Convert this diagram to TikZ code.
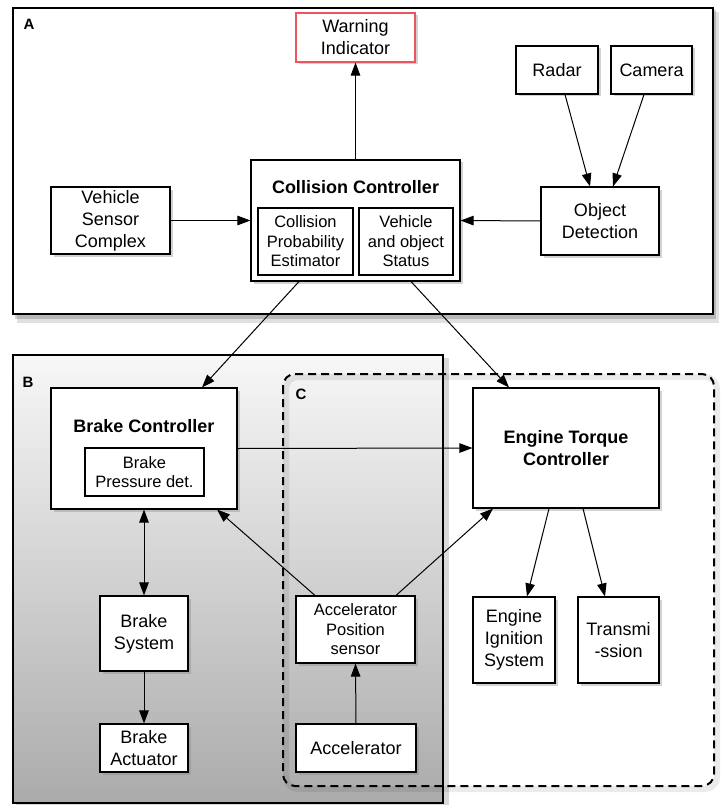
\documentclass[tikz,border=0pt]{standalone}
\usepackage{fontspec}
\setmainfont{Liberation Sans}
\usetikzlibrary{arrows.meta,shadows}
\definecolor{warnred}{RGB}{235,85,95}
\tikzset{
  blk/.style={draw=black, line width=1.1pt, fill=white, inner sep=0pt, align=center,
    font=\fontsize{18}{22}\selectfont,
    drop shadow={shadow xshift=2.5pt, shadow yshift=-2.5pt, opacity=0.35}},
  inner/.style={draw=black, line width=1.1pt, fill=white, inner sep=0pt, align=center,
    font=\fontsize{16.5}{19.5}\selectfont},
  title/.style={font=\bfseries\fontsize{18}{22}\selectfont, align=center, inner sep=0pt},
  lbl/.style={font=\bfseries\fontsize{15}{18}\selectfont, inner sep=0pt},
  conn/.style={line width=1pt, -{Triangle[length=13pt,width=9.5pt]}},
  conn2/.style={line width=1pt, {Triangle[length=13pt,width=9.5pt]}-{Triangle[length=13pt,width=9.5pt]}},
}
\begin{document}
\begin{tikzpicture}[x=1pt,y=-1pt]
\useasboundingbox (0,0) rectangle (721,805);
% group A
\fill[black, opacity=0.12] (17,12) rectangle (719,323);
\fill[black, opacity=0.18] (15,10) rectangle (716,319);
\draw[line width=2.6pt, fill=white] (13,8) rectangle (713,314);
\node[lbl] (labA) at (29,24) {A};
% group B
\fill[black, opacity=0.15] (16,358) rectangle (449,805);
\shade[top color=black!3, bottom color=black!33] (13,355) rectangle (443,803);
\draw[line width=2.6pt] (13,355) rectangle (443,803);
\node[lbl] (labB) at (28,382) {B};
% group C
\draw[black, opacity=0.08, line width=6pt, rounded corners=12pt] (286,377) rectangle (717,789);
\draw[line width=2pt, dash pattern=on 8pt off 5pt, rounded corners=12pt] (283,374) rectangle (714,786);
\node[lbl] (labC) at (301,394) {C};
% nodes of A
\node[blk, draw=warnred, minimum width=119, minimum height=49] (warn) at (355.5,37.5) {Warning\\Indicator};
\node[blk, minimum width=82, minimum height=48] (radar) at (557,70) {Radar};
\node[blk, minimum width=81, minimum height=48] (camera) at (651.5,70) {Camera};
\node[blk, minimum width=209, minimum height=121] (coll) at (355.5,220.5) {};
\node[title] (colltitle) at (355.5,187) {Collision Controller};
\node[inner, minimum width=95, minimum height=67] (cpe) at (305.5,241.5) {Collision\\Probability\\Estimator};
\node[inner, minimum width=94, minimum height=67] (vos) at (406,241.5) {Vehicle\\and object\\Status};
\node[blk, minimum width=119, minimum height=67] (vsc) at (110.5,220.5) {Vehicle\\Sensor\\Complex};
\node[blk, minimum width=118, minimum height=68] (od) at (600,221) {Object\\Detection};
% nodes of B
\node[blk, minimum width=186, minimum height=121] (bc) at (144,448.5) {};
\node[title] (bctitle) at (144,426) {Brake Controller};
\node[inner, minimum width=119, minimum height=48] (bpd) at (144.5,472) {Brake\\Pressure det.};
\node[blk, minimum width=88, minimum height=75] (bs) at (144,633.5) {Brake\\System};
\node[blk, minimum width=88, minimum height=48] (ba) at (144,748) {Brake\\Actuator};
% nodes of C
\node[blk, font=\fontsize{16.5}{19.5}\selectfont, minimum width=119, minimum height=67] (aps) at (355.5,629.5) {Accelerator\\Position\\sensor};
\node[blk, minimum width=120, minimum height=48] (acc) at (356,748) {Accelerator};
\node[blk, minimum width=186, minimum height=120] (etc) at (566,448) {};
\node[title] (etctitle) at (566,448) {Engine Torque\\Controller};
\node[blk, minimum width=82, minimum height=86] (eis) at (514,640) {Engine\\Ignition\\System};
\node[blk, minimum width=81, minimum height=86] (trans) at (618.5,640) {Transmi\\-ssion};
% connectors
\draw[conn] (coll.north) -- (warn.south);
\draw[conn] (vsc.east) -- (coll.west);
\draw[conn] (od.west) -- (coll.east);
\draw[conn] ([xshift=8pt]radar.south) -- ([xshift=-10pt]od.north);
\draw[conn] ([xshift=-7.5pt]camera.south) -- ([xshift=13pt]od.north);
\draw[conn] ([xshift=-56.5pt]coll.south) -- ([xshift=58pt]bc.north);
\draw[conn] ([xshift=55.5pt]coll.south) -- ([xshift=-57pt]etc.north);
\draw[conn2] (bc.south) -- (bs.north);
\draw[conn] (bs.south) -- (ba.north);
\draw[conn] (acc.north) -- (aps.south);
\draw[conn] ([xshift=-40.5pt]aps.north) -- ([xshift=73pt]bc.south);
\draw[conn] ([xshift=40.5pt]aps.north) -- ([xshift=-73pt]etc.south);
\draw[conn] (bc.east) -- (etc.west);
\draw[conn] ([xshift=-17pt]etc.south) -- ([xshift=13pt]eis.north);
\draw[conn] ([xshift=17pt]etc.south) -- ([xshift=-13.5pt]trans.north);
\end{tikzpicture}
\end{document}
